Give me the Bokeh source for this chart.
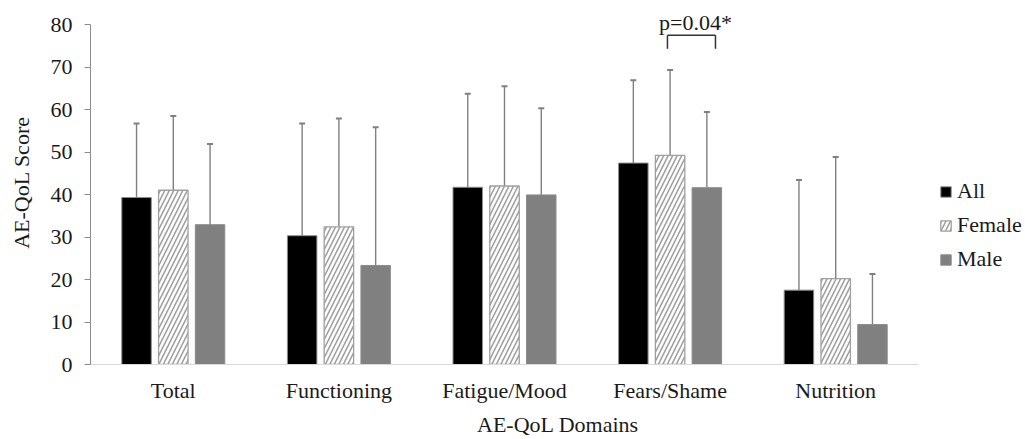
from bokeh.plotting import figure
from bokeh.models import (ColumnDataSource, Range1d, FixedTicker,
                          Legend, LegendItem, Label)
from bokeh.transform import dodge
from bokeh.embed import file_html
from bokeh.resources import INLINE

categories = ["Total", "Functioning", "Fatigue/Mood", "Fears/Shame", "Nutrition"]
all_mean = [39.3, 30.3, 41.7, 47.4, 17.5]
all_sd = [17.4, 26.4, 22.0, 19.5, 25.9]
female_mean = [41.0, 32.4, 42.0, 49.2, 20.2]
female_sd = [17.5, 25.5, 23.5, 20.1, 28.6]
male_mean = [32.9, 23.3, 39.9, 41.6, 9.4]
male_sd = [19.0, 32.5, 20.4, 17.8, 11.9]
y_ticks = [0, 10, 20, 30, 40, 50, 60, 70, 80]
sig_category = ["Fears/Shame"]
sig_top = [77.5]
sig_bottom = [74.3]
sig_text = "p=0.04*"

FONT = "Liberation Serif"
QFONT = "Times"
TXT = "#1a1a1a"

xs = list(range(len(categories)))
src = ColumnDataSource(dict(
    x=xs,
    all=all_mean, all_hi=[m + s for m, s in zip(all_mean, all_sd)],
    fem=female_mean, fem_hi=[m + s for m, s in zip(female_mean, female_sd)],
    male=male_mean, male_hi=[m + s for m, s in zip(male_mean, male_sd)],
))

FW, FH = 935, 364
PX_PER_CAT = 165.6
TOP_GAP = 24
y_end = 80 + TOP_GAP / ((FH - TOP_GAP) / 80)
x_end = -0.5 + FW / PX_PER_CAT

p = figure(frame_width=FW, frame_height=FH,
           x_range=Range1d(-0.5, x_end), y_range=Range1d(0, y_end),
           output_backend="svg", toolbar_location=None,
           min_border_left=90, min_border_right=0, min_border_top=0, min_border_bottom=0)

OFF = 0.222
W = 0.178
EC = "#808080"

series = [("all", -OFF), ("fem", 0.0), ("male", OFF)]
for key, off in series:
    x = dodge("x", off)
    p.segment(x0=x, y0=key, x1=x, y1=key + "_hi", source=src, line_color=EC, line_width=1.4)
    p.scatter(x=x, y=key + "_hi", source=src, marker="dash", size=6, line_color=EC, line_width=2)

r_all = p.vbar(x=dodge("x", -OFF), top="all", width=W, source=src,
               fill_color="#000000", line_color="#8c8c8c", line_width=1)
r_fem = p.vbar(x=dodge("x", 0.0), top="fem", width=W, source=src,
               fill_color="#ffffff", line_color="#a0a0a0", line_width=1.3,
               hatch_pattern="/", hatch_color="#a0a0a0", hatch_scale=9, hatch_weight=1.6)
r_male = p.vbar(x=dodge("x", OFF), top="male", width=W, source=src,
                fill_color="#808080", line_color="#8c8c8c", line_width=1)

# significance bracket
sig_idx = [categories.index(c) for c in sig_category]
bsrc = ColumnDataSource(dict(x=sig_idx, top=sig_top, bot=sig_bottom))
xl = dodge("x", -0.016)
xr = dodge("x", 0.274)
p.segment(x0=xl, y0="top", x1=xr, y1="top", source=bsrc, line_color="#333333", line_width=1.5)
p.segment(x0=xl, y0="top", x1=xl, y1="bot", source=bsrc, line_color="#333333", line_width=1.5)
p.segment(x0=xr, y0="top", x1=xr, y1="bot", source=bsrc, line_color="#333333", line_width=1.5)
p.add_layout(Label(x=sig_idx[0] + 0.153, y=sig_top[0], y_offset=0, text=sig_text,
                   text_align="center", text_baseline="bottom",
                   text_font=QFONT, text_font_size="22px", text_color=TXT))

# axes
p.xgrid.visible = False
p.ygrid.visible = False
p.outline_line_color = None

p.yaxis.ticker = FixedTicker(ticks=y_ticks)
p.yaxis.bounds = (0, 80)
p.yaxis.axis_line_color = "#8c8c8c"
p.yaxis.major_tick_line_color = "#8c8c8c"
p.yaxis.major_tick_out = 6
p.yaxis.major_tick_in = 0
p.yaxis.minor_tick_line_color = None
p.yaxis.major_label_standoff = 12
p.yaxis.axis_label = "AE-QoL Score"
p.yaxis.axis_label_standoff = 14

p.xaxis.ticker = FixedTicker(ticks=xs)
p.xaxis.major_label_overrides = {i: c for i, c in zip(xs, categories)}
p.xaxis.bounds = (-0.5, len(categories) - 0.5)
p.xaxis.axis_line_color = "#d9d9d9"
p.xaxis.major_tick_line_color = None
p.xaxis.major_tick_out = 0
p.xaxis.major_tick_in = 0
p.xaxis.minor_tick_line_color = None
p.xaxis.major_label_standoff = 13
p.xaxis.axis_label = "AE-QoL Domains"
p.xaxis.axis_label_standoff = 6

for ax in (p.xaxis[0], p.yaxis[0]):
    ax.major_label_text_font = FONT
    ax.major_label_text_font_size = "22px"
    ax.major_label_text_color = TXT
    ax.axis_label_text_font = FONT
    ax.axis_label_text_font_size = "22px"
    ax.axis_label_text_font_style = "normal"
    ax.axis_label_text_color = TXT

legend = Legend(items=[LegendItem(label="All", renderers=[r_all]),
                       LegendItem(label="Female", renderers=[r_fem]),
                       LegendItem(label="Male", renderers=[r_male])],
                location=(849, 92), padding=0, margin=0, border_line_color=None,
                background_fill_alpha=0, glyph_width=13, glyph_height=13,
                label_standoff=5, label_height=25, spacing=8,
                label_text_font=QFONT, label_text_font_size="22px", label_text_color=TXT)
p.add_layout(legend, "center")

open("out.html", "w").write(file_html(p, INLINE))
